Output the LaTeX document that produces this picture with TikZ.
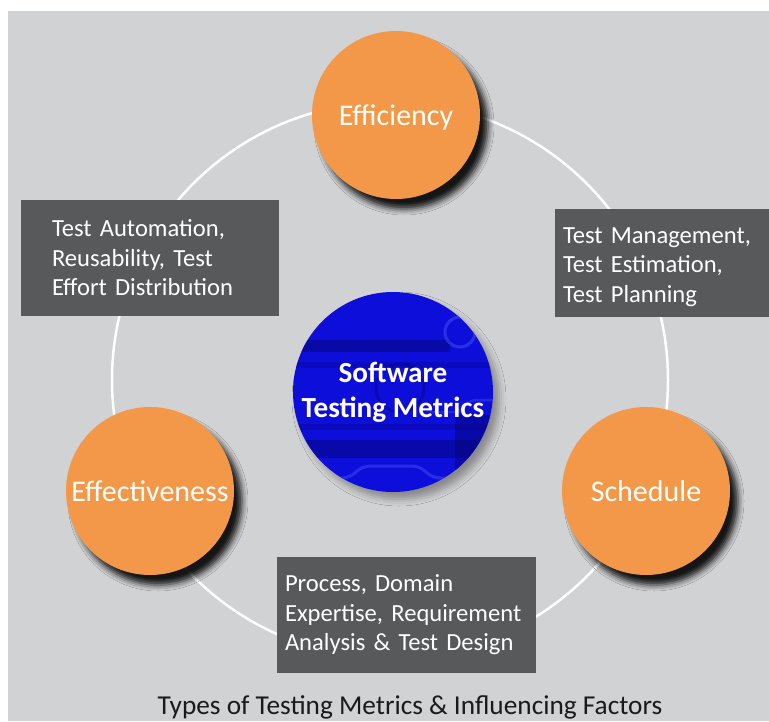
\documentclass[tikz,border=0pt]{standalone}
\usepackage{fontspec}
\setmainfont{Carlito}
\usetikzlibrary{shadows.blur}
\definecolor{tmgray}{HTML}{D1D2D4}
\definecolor{tmorange}{HTML}{F29848}
\definecolor{tmbox}{HTML}{58595B}
\definecolor{tmblue}{HTML}{0E0EDA}
\definecolor{tmnavy}{HTML}{05057A}
\definecolor{tmglow}{HTML}{3A48F2}
\definecolor{tmtext}{HTML}{1A1A1A}

\begin{document}
\begin{tikzpicture}[x=1pt, y=-1pt,
  metric/.style={circle, fill=tmorange, minimum size=168pt, inner sep=0pt, text=white,
                 text depth=0pt, font=\fontsize{30}{34}\selectfont,
                 blur shadow={shadow xshift=8pt, shadow yshift=-10pt,
                              shadow blur radius=6pt, shadow opacity=90}},
  hub/.style={circle, minimum size=200pt, inner sep=0pt, text=white,
              align=center, font=\fontsize{29.2}{35}\selectfont\bfseries},
  disc/.style={fill=tmblue, blur shadow={shadow xshift=6pt, shadow yshift=-7pt,
                                         shadow blur radius=7pt, shadow opacity=35}},
  factor/.style={rectangle, fill=tmbox, text=white, align=left, inner ysep=0pt,
                 font=\fontsize{24.6}{29.5}\selectfont},
  ring/.style={draw=white, line width=2.5pt},
  caption/.style={text=tmtext, font=\fontsize{27.3}{32}\selectfont}]

  % frame and margins
  \useasboundingbox (0,0) rectangle (769,721);
  \fill[tmgray] (8,11) rectangle (769,721);

  % ring behind everything
  \coordinate (ringc) at (390,380);
  \draw[ring] (ringc) circle[radius=278];

  % influencing factors
  \node[factor, minimum width=258pt, minimum height=116pt, inner xsep=31pt, text width=196pt]
       (automation) at (150,258) {Test Automation,\\Reusability, Test\\Effort Distribution};
  \node[factor, minimum width=222pt, minimum height=108pt, inner xsep=8pt, text width=206pt,
        text height=24pt]
       (management) at (666,263) {Test Management,\\Test Estimation,\\Test Planning};
  \node[factor, minimum width=259pt, minimum height=116pt, inner xsep=8pt, text width=243pt]
       (process) at (406.5,615) {Process, Domain\\Expertise, Requirement\\Analysis \& Test Design};

  % metric types
  \node[metric] (efficiency) at (396,115) {Efficiency};
  \node[metric] (effectiveness) at (150,491) {Effectiveness};
  \node[metric] (schedule) at (646,491) {Schedule};

  % centre disc with a bit of circuit texture
  \coordinate (hubc) at (393,392);
  \fill[disc] (hubc) circle[radius=100];
  \begin{scope}
    \clip (hubc) circle[radius=100];
    \fill[tmnavy, opacity=.55] (290,340) rectangle (450,352);
    \fill[tmnavy, opacity=.30] (290,362) rectangle (500,368);
    \fill[tmnavy, opacity=.30] (290,424) rectangle (500,430);
    \fill[tmnavy, opacity=.50] (290,440) rectangle (500,458);
    \fill[tmnavy, opacity=.50] (455,415) rectangle (500,470);
    \draw[tmglow, opacity=.6, line width=3pt] (460,332) circle[radius=15];
    \draw[tmnavy, opacity=.4, line width=3pt] (400,388) circle[radius=24];
    \draw[tmglow, opacity=.55, line width=3pt, rounded corners=8pt]
         (290,478) -- (350,478) -- (362,466) -- (420,466) -- (432,478) -- (500,478);
    \draw[tmglow, opacity=.45, line width=2.5pt, rounded corners=6pt]
         (500,400) -- (470,400) -- (460,412) -- (430,412);
  \end{scope}
  \node[hub] (hub) at (hubc) {Software\\Testing Metrics};

  % caption
  \node[caption, anchor=base] (title) at (410,714) {Types of Testing Metrics \& Influencing Factors};
\end{tikzpicture}
\end{document}
